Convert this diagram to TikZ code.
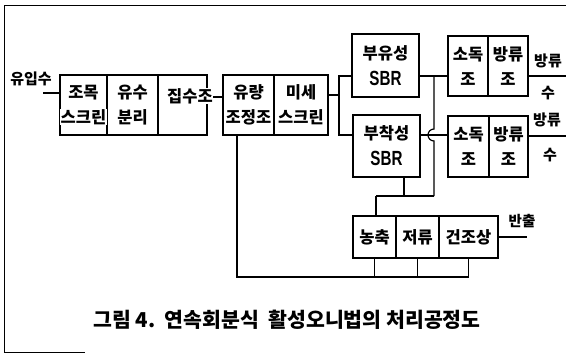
\documentclass[tikz,border=0pt]{standalone}
\usepackage{fontspec}
\setmainfont{Liberation Sans}
\newfontfamily\kr{Noto Sans CJK KR}
\newfontfamily\sbr[FakeStretch=0.74]{Liberation Sans Bold}
\usetikzlibrary{calc}
\newcommand\wbx[1]{{\setlength\fboxsep{0.6pt}\colorbox{white}{#1}}}
\begin{document}
\begin{tikzpicture}[x=1pt,y=-1pt,
  box/.style={draw,line width=1.2pt,inner sep=0pt,rectangle},
  txt/.style={inner sep=0pt,align=center,font=\kr\bfseries\fontsize{16.5}{25}\selectfont},
  sbrtxt/.style={inner sep=0pt,align=center,font=\kr\bfseries\fontsize{16.5}{26}\selectfont},
  lbl/.style={inner sep=0pt,font=\kr\bfseries\fontsize{15}{18}\selectfont},
  wire/.style={line width=1.2pt},
  frameline/.style={line width=0.9pt}]
\useasboundingbox (0,0) rectangle (566,362);
% frame
\draw[frameline] (566,5) -- (4,5) -- (4,352) -- (85,352);
% boxes
\node[box,minimum width=47,minimum height=60] (jomok) at (83.5,105) {};
\node[box,minimum width=51,minimum height=60] (yusu) at (132.5,105) {};
\node[box,minimum width=49,minimum height=60] (jipsu) at (182.5,105) {};
\node[box,minimum width=51,minimum height=60] (yuryang) at (248.5,105) {};
\node[box,minimum width=54,minimum height=60] (mise) at (301,105) {};
\node[box,minimum width=67,minimum height=63] (buyu) at (385.5,65.5) {};
\node[box,minimum width=67,minimum height=62] (buchak) at (386.5,146) {};
\node[box,minimum width=40,minimum height=60] (sodok1) at (468,66) {};
\node[box,minimum width=40,minimum height=60] (bangryu1) at (508,66) {};
\node[box,minimum width=41,minimum height=61] (sodok2) at (468.5,146.5) {};
\node[box,minimum width=39,minimum height=61] (bangryu2) at (508.5,146.5) {};
\node[box,minimum width=43,minimum height=42] (nongchuk) at (374.5,237) {};
\node[box,minimum width=43,minimum height=42] (jeoryu) at (417.5,237) {};
\node[box,minimum width=59,minimum height=42] (geonjo) at (468.5,237) {};
% coordinates
\coordinate (in) at (43,93);
\coordinate (jj) at (215,97);
\coordinate (ret) at (237,277);
\coordinate (jm) at (339,95);
\coordinate (ja) at (339,76);
\coordinate (jb) at (339,135);
\coordinate (jc) at (434,76);
\coordinate (jd) at (434,135);
\coordinate (jbot) at (434,196);
\coordinate (jk) at (404,196);
\coordinate (jl) at (376,196);
\coordinate (o1) at (566,76);
\coordinate (o2) at (566,136);
\coordinate (ob) at (527,237);
% connectors
\draw[wire] (in) -- (jomok.west |- in);
\draw[wire] (jipsu.east |- jj) -- (yuryang.west |- jj);
\draw[wire] (yuryang.south -| ret) -- (ret) -- (geonjo.south |- ret);
\draw[wire] (nongchuk.south) -- (nongchuk.south |- ret);
\draw[wire] (jeoryu.south) -- (jeoryu.south |- ret);
\draw[wire] (geonjo.south) -- (geonjo.south |- ret);
\draw[wire] (mise.east |- jm) -- (jm);
\draw[wire] (buyu.west |- ja) -- (ja) -- (jb) -- (buchak.west |- jb);
\draw[wire] (buyu.east |- jc) -- (sodok1.west |- jc);
\draw[wire] (buchak.east |- jd) -- (sodok2.west |- jd);
\draw[wire] (jc) -- ($(jd)+(0,-6)$) arc[start angle=270,end angle=90,radius=6] -- (jbot);
\draw[wire] (buchak.south -| jk) -- (jk);
\draw[wire] (jl) -- (jbot);
\draw[wire] (jl) -- (nongchuk.north -| jl);
\draw[wire] (bangryu1.east |- o1) -- (o1);
\draw[wire] (bangryu2.east |- o2) -- (o2);
\draw[wire] (geonjo.east |- ob) -- (ob);
% texts
\node[lbl] (t-in) at (31,79) {유입수};
\node[txt] (t-jomok) at (jomok) {조목\\\wbx{스크린}};
\node[txt] (t-yusu) at (yusu) {유수\\분리};
\node[txt,fill=white,inner sep=0.6pt] (t-jipsu) at (190,96) {집수조};
\node[txt] (t-yuryang) at (yuryang) {유량\\조정조};
\node[txt] (t-mise) at (mise) {미세\\스크린};
\node[sbrtxt] (t-buyu) at (buyu) {부유성\\{\sbr\fontsize{20.5}{26}\selectfont SBR}};
\node[sbrtxt] (t-buchak) at (buchak) {부착성\\{\sbr\fontsize{20.5}{26}\selectfont SBR}};
\node[txt] (t-sodok1) at (sodok1) {소독\\조};
\node[txt] (t-bangryu1) at (bangryu1) {방류\\조};
\node[txt] (t-sodok2) at (sodok2) {소독\\조};
\node[txt] (t-bangryu2) at (bangryu2) {방류\\조};
\node[txt] (t-nongchuk) at (nongchuk) {농축};
\node[txt] (t-jeoryu) at (jeoryu) {저류};
\node[txt] (t-geonjo) at (geonjo) {건조상};
\node[lbl] (t-o1a) at (548,61) {방류};
\node[lbl] (t-o1b) at (548,93) {수};
\node[lbl] (t-o2a) at (547,120) {방류};
\node[lbl] (t-o2b) at (550,155) {수};
\node[lbl,font=\kr\bfseries\fontsize{14.5}{16}\selectfont] (t-ob) at (522,221) {반출};
\node[inner sep=0pt,font=\kr\bfseries\fontsize{20.5}{22}\selectfont] (cap) at (287,320) {그림 4.\ \ 연속회분식\ \ 활성오니법의 처리공정도};
\end{tikzpicture}
\end{document}
